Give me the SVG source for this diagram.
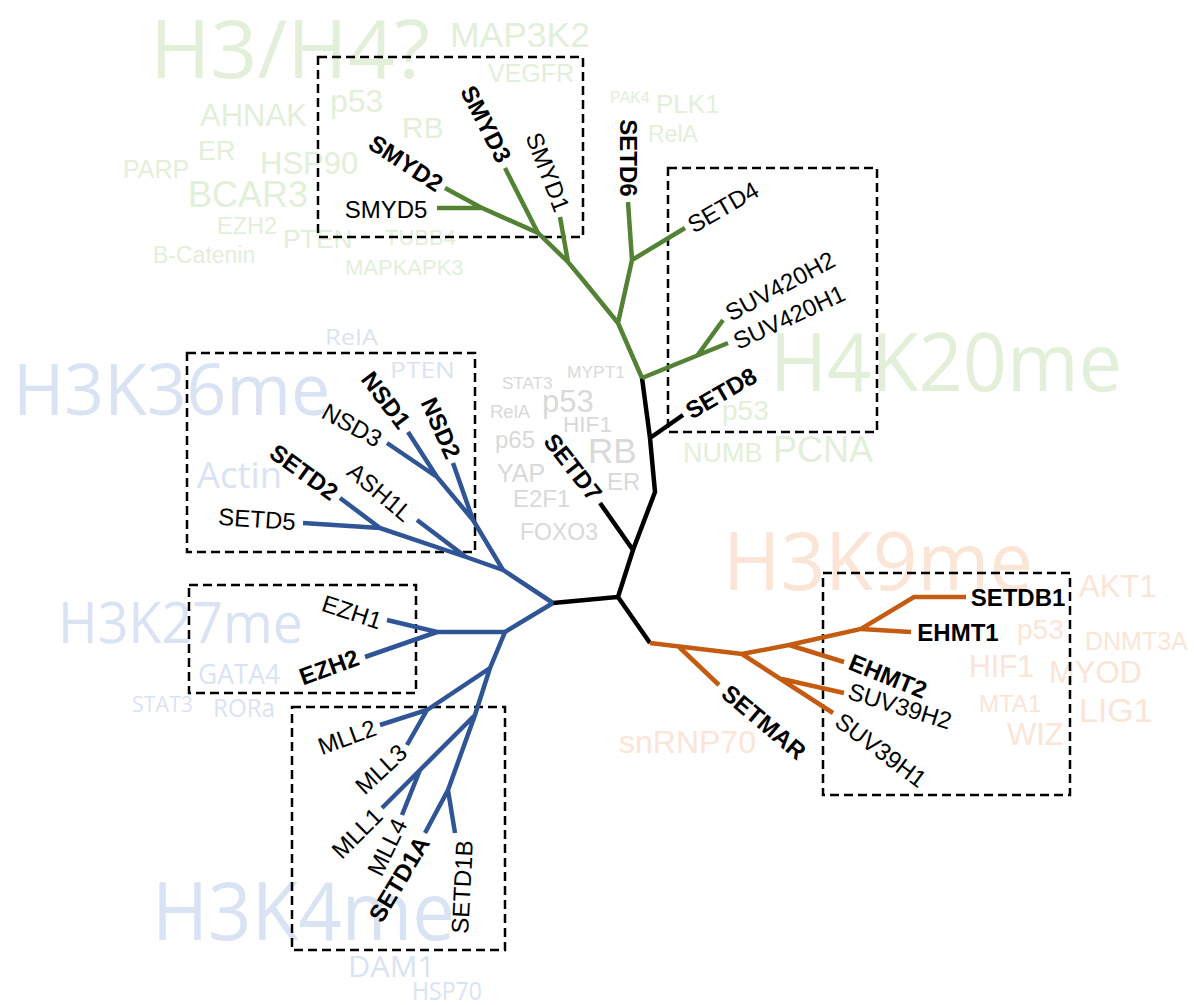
<svg xmlns="http://www.w3.org/2000/svg" width="1194" height="1005" viewBox="0 0 1194 1005">
<style>
.ar{font-family:"Liberation Sans",Arial,sans-serif}
.ca{font-family:"Open Sans","Liberation Sans",sans-serif}
.g{fill:#e2efd9}
.bl{fill:#dae3f3}
.o{fill:#fbe5d6}
.gr{fill:#d9d9d9}
.lbl{font-family:"Liberation Sans",Arial,sans-serif;font-size:24px;fill:#000;text-anchor:middle;dominant-baseline:central}
.b{font-weight:bold}
.box{fill:none;stroke:#000;stroke-width:2.5;stroke-dasharray:9 5}
.tr{fill:none;stroke-width:4.5;stroke-linecap:butt;stroke-linejoin:miter}
</style>
<rect width="1194" height="1005" fill="#fff"/>
<g id="wordcloud">
<text class="ca g" x="150" y="78" font-size="81" textLength="280" lengthAdjust="spacingAndGlyphs">H3/H4?</text>
<text class="ar g" x="450" y="47" font-size="35" textLength="140" lengthAdjust="spacingAndGlyphs">MAP3K2</text>
<text class="ar g" x="488" y="82" font-size="25">VEGFR</text>
<text class="ar g" x="330" y="112" font-size="32">p53</text>
<text class="ar g" x="200" y="126" font-size="31">AHNAK</text>
<text class="ar g" x="402" y="138" font-size="30">RB</text>
<text class="ar g" x="198" y="160" font-size="27">ER</text>
<text class="ar g" x="260" y="174" font-size="31">HSP90</text>
<text class="ar g" x="123" y="178" font-size="25">PARP</text>
<text class="ar g" x="188" y="207" font-size="36">BCAR3</text>
<text class="ar g" x="217" y="234" font-size="23.5">EZH2</text>
<text class="ar g" x="283" y="248" font-size="26">PTEN</text>
<text class="ar g" x="385" y="245" font-size="22">TUBB4</text>
<text class="ar g" x="153" y="263" font-size="23">B-Catenin</text>
<text class="ar g" x="345" y="275" font-size="22">MAPKAPK3</text>
<text class="ar g" x="610" y="103" font-size="16">PAK4</text>
<text class="ar g" x="656" y="113" font-size="26">PLK1</text>
<text class="ar g" x="648" y="142" font-size="23">RelA</text>
<text class="ca g" x="770" y="391" font-size="80" textLength="352" lengthAdjust="spacingAndGlyphs">H4K20me</text>
<text class="ar g" x="722" y="420" font-size="28">p53</text>
<text class="ar g" x="683" y="462" font-size="27">NUMB</text>
<text class="ar g" x="773" y="462" font-size="36">PCNA</text>
<text class="ca bl" x="13" y="415" font-size="72" textLength="317" lengthAdjust="spacingAndGlyphs">H3K36me</text>
<text class="ca bl" x="325" y="345" font-size="22" textLength="53" lengthAdjust="spacingAndGlyphs">RelA</text>
<text class="ca bl" x="390" y="378" font-size="22" textLength="65" lengthAdjust="spacingAndGlyphs">PTEN</text>
<text class="ca bl" x="197" y="488" font-size="36" textLength="85" lengthAdjust="spacingAndGlyphs">Actin</text>
<text class="ca bl" x="58" y="643" font-size="57" textLength="245" lengthAdjust="spacingAndGlyphs">H3K27me</text>
<text class="ca bl" x="198" y="684" font-size="26.5" textLength="82" lengthAdjust="spacingAndGlyphs">GATA4</text>
<text class="ca bl" x="132" y="712" font-size="22" textLength="61" lengthAdjust="spacingAndGlyphs">STAT3</text>
<text class="ca bl" x="213" y="717" font-size="25" textLength="62" lengthAdjust="spacingAndGlyphs">RORa</text>
<text class="ca bl" x="152" y="940" font-size="80" textLength="303" lengthAdjust="spacingAndGlyphs">H3K4me</text>
<text class="ca bl" x="348" y="977" font-size="29" textLength="87" lengthAdjust="spacingAndGlyphs">DAM1</text>
<text class="ca bl" x="412" y="1000" font-size="25" textLength="70" lengthAdjust="spacingAndGlyphs">HSP70</text>
<text class="ca o" x="723" y="590" font-size="81" textLength="310" lengthAdjust="spacingAndGlyphs">H3K9me</text>
<text class="ar o" x="1079" y="597" font-size="31">AKT1</text>
<text class="ar o" x="1017" y="639" font-size="28">p53</text>
<text class="ar o" x="1085" y="650" font-size="25">DNMT3A</text>
<text class="ar o" x="969" y="677" font-size="31" textLength="65" lengthAdjust="spacingAndGlyphs">HIF1</text>
<text class="ar o" x="1049" y="683" font-size="31">MYOD</text>
<text class="ar o" x="979" y="712" font-size="24">MTA1</text>
<text class="ar o" x="1079" y="722" font-size="34">LIG1</text>
<text class="ar o" x="1007" y="745" font-size="31">WIZ</text>
<text class="ar o" x="619" y="753" font-size="32">snRNP70</text>
<text class="ar gr" x="502" y="389" font-size="17">STAT3</text>
<text class="ar gr" x="567" y="378" font-size="17.4">MYPT1</text>
<text class="ar gr" x="542" y="412" font-size="31">p53</text>
<text class="ar gr" x="490" y="418" font-size="18.5">RelA</text>
<text class="ar gr" x="563" y="432" font-size="22.6">HIF1</text>
<text class="ar gr" x="495" y="448" font-size="24">p65</text>
<text class="ar gr" x="588" y="463" font-size="35">RB</text>
<text class="ar gr" x="497" y="482" font-size="25">YAP</text>
<text class="ar gr" x="607" y="490" font-size="24">ER</text>
<text class="ar gr" x="513" y="507" font-size="24">E2F1</text>
<text class="ar gr" x="520" y="540" font-size="23">FOXO3</text>
</g>
<g id="groups">
<rect class="box" x="318" y="57" width="265" height="180"/>
<rect class="box" x="668" y="168" width="209" height="264"/>
<rect class="box" x="187" y="353" width="288" height="199"/>
<rect class="box" x="189" y="585" width="227" height="108"/>
<rect class="box" x="292" y="707" width="213" height="243"/>
<rect class="box" x="823" y="573" width="247" height="222"/>
</g>
<g id="connectors">
<path class="tr" stroke="#000" stroke-width="5.5" d="M553,603 L618,597 L633,550 L655,492 L650,438 L642,378 M618,597 L650,643 M633,550 L600,503 M650,438 L683,415"/>
<path class="tr" stroke="#548235" d="M642,378 L618,323 L583,280 L568,262 L538,233 L480,207 L445,188 M568,262 L560,217 M538,233 L505,168 M481,208 L437,208 M618,323 L632,260 L628,202 M632,260 L685,228 M642,378 L728,343 M697,356 L723,320"/>
<path class="tr" stroke="#c55a11" d="M650,643 L742,654 L789,645 L861,629 L914,597 L966,597 M861,629 L911,632 M789,645 L844,662 M742,654 L833,713 M782,679 L844,693 M678,646 L719,685"/>
<path class="tr" stroke="#2f5597" d="M553,603 L503,570 L473,520 L453,463 M473,520 L437,477 L408,432 M437,477 L387,443 M503,570 L466,557 L380,528 L303,523 M466,557 L417,520 M380,528 L340,498 M553,603 L505,632 L437,632 L387,620 M437,632 L365,657 M505,632 L490,668 L427,710 L380,725 M427,710 L407,745 M490,668 L475,715 L448,790 L425,833 M475,715 L420,770 L382,808 M420,770 L402,815 M448,790 L455,833"/>
</g>
<g id="node-SMYD2"><text class="lbl b" transform="translate(406,163) rotate(33)">SMYD2</text></g>
<g id="node-SMYD5"><text class="lbl" transform="translate(386,209)">SMYD5</text></g>
<g id="node-SMYD3"><text class="lbl b" transform="translate(486,124) rotate(63)">SMYD3</text></g>
<g id="node-SMYD1"><text class="lbl" transform="translate(548,172) rotate(69)">SMYD1</text></g>
<g id="node-SETD6"><text class="lbl b" transform="translate(628,158) rotate(90)">SETD6</text></g>
<g id="node-SETD4"><text class="lbl" transform="translate(723,207) rotate(-30)">SETD4</text></g>
<g id="node-SUV420H2"><text class="lbl" transform="translate(780,286) rotate(-28)">SUV420H2</text></g>
<g id="node-SUV420H1"><text class="lbl" transform="translate(789,317) rotate(-25)">SUV420H1</text></g>
<g id="node-SETD8"><text class="lbl b" transform="translate(721,393) rotate(-30)">SETD8</text></g>
<g id="node-SETD7"><text class="lbl b" transform="translate(573,467) rotate(52)">SETD7</text></g>
<g id="node-NSD3"><text class="lbl" transform="translate(352,425) rotate(29)">NSD3</text></g>
<g id="node-NSD1"><text class="lbl b" transform="translate(386,400) rotate(53)">NSD1</text></g>
<g id="node-NSD2"><text class="lbl b" transform="translate(441,428) rotate(66)">NSD2</text></g>
<g id="node-SETD2"><text class="lbl b" transform="translate(304,472) rotate(36)">SETD2</text></g>
<g id="node-ASH1L"><text class="lbl" transform="translate(380,492) rotate(40)">ASH1L</text></g>
<g id="node-SETD5"><text class="lbl" transform="translate(257,519) rotate(4)">SETD5</text></g>
<g id="node-EZH1"><text class="lbl" transform="translate(352,612) rotate(18)">EZH1</text></g>
<g id="node-EZH2"><text class="lbl b" transform="translate(329,667) rotate(-20)">EZH2</text></g>
<g id="node-MLL2"><text class="lbl" transform="translate(347,737) rotate(-20)">MLL2</text></g>
<g id="node-MLL3"><text class="lbl" transform="translate(381,769) rotate(-43)">MLL3</text></g>
<g id="node-MLL1"><text class="lbl" transform="translate(357,833) rotate(-45)">MLL1</text></g>
<g id="node-MLL4"><text class="lbl" transform="translate(387,847) rotate(-64)">MLL4</text></g>
<g id="node-SETD1A"><text class="lbl b" transform="translate(399,879) rotate(-59)">SETD1A</text></g>
<g id="node-SETD1B"><text class="lbl" transform="translate(462,887) rotate(-87)">SETD1B</text></g>
<g id="node-SETMAR"><text class="lbl b" transform="translate(764,722) rotate(40)">SETMAR</text></g>
<g id="node-SUV39H1"><text class="lbl" transform="translate(881,750) rotate(37)">SUV39H1</text></g>
<g id="node-SUV39H2"><text class="lbl" transform="translate(900,706) rotate(17)">SUV39H2</text></g>
<g id="node-EHMT2"><text class="lbl b" transform="translate(888,676) rotate(22)">EHMT2</text></g>
<g id="node-EHMT1"><text class="lbl b" transform="translate(958,632)">EHMT1</text></g>
<g id="node-SETDB1"><text class="lbl b" transform="translate(1018,597)">SETDB1</text></g>
</svg>
